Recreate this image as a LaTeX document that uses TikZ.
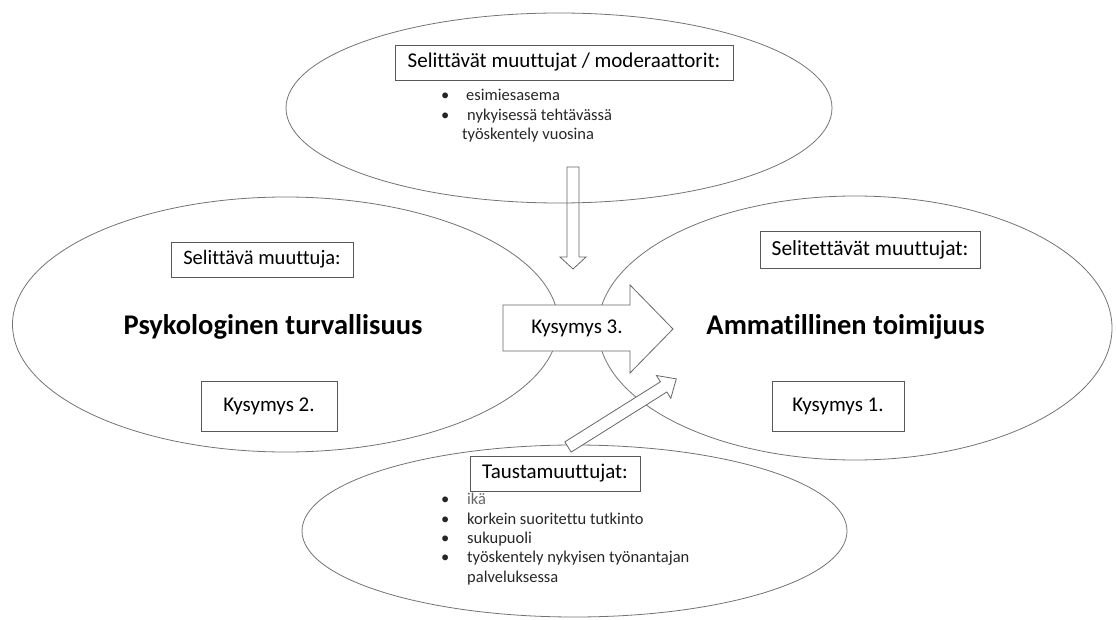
\documentclass[tikz,border=0pt]{standalone}
\usepackage{fontspec}
\setmainfont[Ligatures=NoCommon]{Carlito}
\usetikzlibrary{shapes.geometric}
\tikzset{
  ell/.style={ellipse, draw=black!55, line width=0.8pt, inner sep=0pt},
  lbl/.style={draw=black!65, line width=0.8pt, fill=white, inner sep=0pt},
  big/.style={font=\bfseries\fontsize{28.5}{32}\selectfont, inner sep=0pt},
  blk/.style={draw=black!60, line width=0.8pt, fill=white, line join=miter},
  bul/.style={anchor=base west, inner sep=0pt, font=\fontsize{16.5}{19}\selectfont, text=black!85},
}
\begin{document}
\begin{tikzpicture}[x=1pt,y=-1pt]
\useasboundingbox (0,0) rectangle (1116,620);
% ellipses
\node[ell, minimum width=546pt, minimum height=190pt] (topE) at (559,108) {};
\node[ell, minimum width=546pt, minimum height=255pt] (leftE) at (285.5,324.5) {};
\node[ell, minimum width=514pt, minimum height=264pt] (rightE) at (855,328) {};
\node[ell, minimum width=545pt, minimum height=172pt] (botE) at (574.5,531) {};
% down arrow (unfilled)
\draw[draw=black!60, line width=0.8pt] (567,167) -- (579,167) -- (579,257) -- (586,257) -- (573,269) -- (560,257) -- (567,257) -- cycle;
% main arrow
\draw[blk] (503,305) -- (630,305) -- (630,285) -- (673,329) -- (630,373) -- (630,351) -- (503,351) -- cycle;
\node[font=\fontsize{21}{25}\selectfont, inner sep=0pt] (k3) at (577,328) {Kysymys 3.};
% diagonal arrow
\draw[blk] (564.8,441.9) -- (660.4,381.8) -- (656.4,375.5) -- (676.3,378.9) -- (670.8,398.3) -- (666.8,392.0) -- (571.2,452.1) -- cycle;
% top labels
\node[lbl, minimum width=338pt, minimum height=35pt, font=\fontsize{21}{25}\selectfont] (topL) at (564,62.5) {Selittävät muuttujat / moderaattorit:};
\node[bul] (tb1) at (441,101) {\textbullet};
\node[bul] (tt1) at (466,101) {esimiesasema};
\node[bul] (tb2) at (441,121) {\textbullet};
\node[bul] (tt2) at (467,121) {nykyisessä tehtävässä};
\node[bul] (tt3) at (462,140) {työskentely vuosina};
% left
\node[lbl, minimum width=182pt, minimum height=35pt, font=\fontsize{20.5}{24}\selectfont] (leftL) at (262,259.5) {Selittävä muuttuja:};
\node[big] (psy) at (273,327) {Psykologinen turvallisuus};
\node[lbl, minimum width=136pt, minimum height=50pt, font=\fontsize{21}{25}\selectfont] (k2) at (269,406) {Kysymys 2.};
% right
\node[lbl, minimum width=220pt, minimum height=37pt, font=\fontsize{21.5}{25}\selectfont] (rightL) at (870,249.5) {Selitettävät muuttujat:};
\node[big] (amm) at (845.5,327) {Ammatillinen toimijuus};
\node[lbl, minimum width=132pt, minimum height=50pt, font=\fontsize{21}{25}\selectfont] (k1) at (838,406) {Kysymys 1.};
% bottom
\node[lbl, minimum width=170pt, minimum height=35pt, font=\fontsize{21}{25}\selectfont] (botL) at (555,473.5) {Taustamuuttujat:};
\node[bul] (bb1) at (441,504) {\textbullet};
\node[bul, text=black!60] (bt1) at (467,504) {ikä};
\node[bul] (bb2) at (441,524) {\textbullet};
\node[bul] (bt2) at (467,524) {korkein suoritettu tutkinto};
\node[bul] (bb3) at (441,543) {\textbullet};
\node[bul] (bt3) at (467,543) {sukupuoli};
\node[bul] (bb4) at (441,562) {\textbullet};
\node[bul] (bt4) at (467,562) {työskentely nykyisen työnantajan};
\node[bul] (bt5) at (467,582) {palveluksessa};
\end{tikzpicture}
\end{document}
